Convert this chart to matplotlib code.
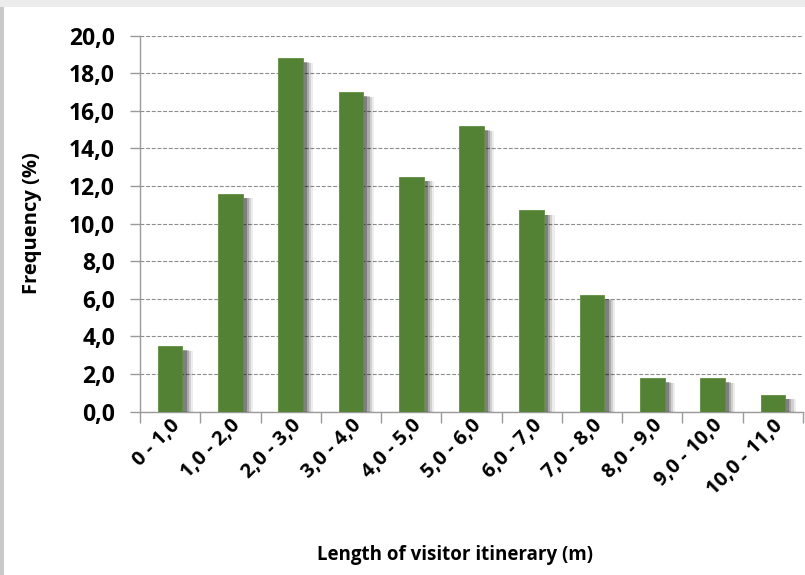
import matplotlib
matplotlib.use("Agg")
import matplotlib.pyplot as plt
import matplotlib.patheffects as pe
from matplotlib.patches import Rectangle

# itinerary length classes (m) and share of visitors (%)
classes = ["0 - 1,0", "1,0 - 2,0", "2,0 - 3,0", "3,0 - 4,0", "4,0 - 5,0", "5,0 - 6,0",
           "6,0 - 7,0", "7,0 - 8,0", "8,0 - 9,0", "9,0 - 10,0", "10,0 - 11,0"]
freq = [3.5, 11.6, 18.8, 17.0, 12.5, 15.2, 10.7, 6.2, 1.8, 1.8, 0.9]
yticks = [0, 2, 4, 6, 8, 10, 12, 14, 16, 18, 20]
ytick_labels = ["0,0", "2,0", "4,0", "6,0", "8,0", "10,0", "12,0", "14,0", "16,0", "18,0", "20,0"]

GREEN = "#538234"
AXIS = "#9a9a9a"
FONT = ["Open Sans", "DejaVu Sans"]

plt.rcParams["font.family"] = FONT
plt.rcParams["font.weight"] = "bold"

fig = plt.figure(figsize=(8.05, 5.75), dpi=100, facecolor="white")

# light frame strips along the top and left edges
fig.patches.append(Rectangle((0, 1 - 7 / 575), 1, 7 / 575, transform=fig.transFigure,
                             facecolor="#ececec", edgecolor="none", zorder=0))
fig.patches.append(Rectangle((0, 0), 4 / 805, 1 - 7 / 575, transform=fig.transFigure,
                             facecolor="#c9c9c9", edgecolor="none", zorder=0))

ax = fig.add_axes([140 / 805, 163.5 / 575, 663 / 805, 375.8 / 575])
ax.set_facecolor("none")

x = list(range(len(classes)))
shadow = [
    pe.SimplePatchShadow(offset=(7.5, -3.5), shadow_rgbFace="#000000", alpha=0.07),
    pe.SimplePatchShadow(offset=(6, -3.5), shadow_rgbFace="#000000", alpha=0.12),
    pe.SimplePatchShadow(offset=(4.5, -3), shadow_rgbFace="#000000", alpha=0.18),
    pe.SimplePatchShadow(offset=(3, -3), shadow_rgbFace="#000000", alpha=0.25),
    pe.Normal(),
]
bars = ax.bar(x, freq, width=0.41, color=GREEN, edgecolor="#5f8f3f", linewidth=0.6, zorder=3)
for b in bars:
    b.set_path_effects(shadow)

ax.set_xlim(-0.5, len(classes) - 0.5)
ax.set_ylim(0, 20)

ax.set_yticks(yticks)
ax.set_yticklabels(ytick_labels, fontsize=16.5, fontweight="bold")
ax.yaxis.grid(True, color="#8c8c8c", linewidth=0.8, linestyle=(0, (3.5, 1.6)))
ax.set_axisbelow(True)
ax.tick_params(axis="y", length=7, width=1, color=AXIS, pad=11)

# labels at the class centres, tick marks at the class boundaries
ax.set_xticks(x)
ax.set_xticklabels(classes, fontsize=14.5, fontweight="bold", rotation=45,
                   ha="right", va="top", rotation_mode="anchor")
ax.set_xticks([i - 0.5 for i in range(len(classes) + 1)], minor=True)
ax.tick_params(axis="x", which="major", length=0, pad=3)
ax.tick_params(axis="x", which="minor", length=8, width=1, color=AXIS)

for side in ("top", "right"):
    ax.spines[side].set_visible(False)
for side in ("left", "bottom"):
    ax.spines[side].set_color(AXIS)
    ax.spines[side].set_linewidth(1)

ax.set_ylabel("Frequency (%)", fontsize=14.5, fontweight="bold")
ax.yaxis.set_label_coords(-98 / 663, 0.5)
fig.text(455 / 805, 1 - 555 / 575, "Length of visitor itinerary (m)", fontsize=13.5,
         fontweight="bold", ha="center", va="center")

fig.savefig("out.png", dpi=100, facecolor="white")
